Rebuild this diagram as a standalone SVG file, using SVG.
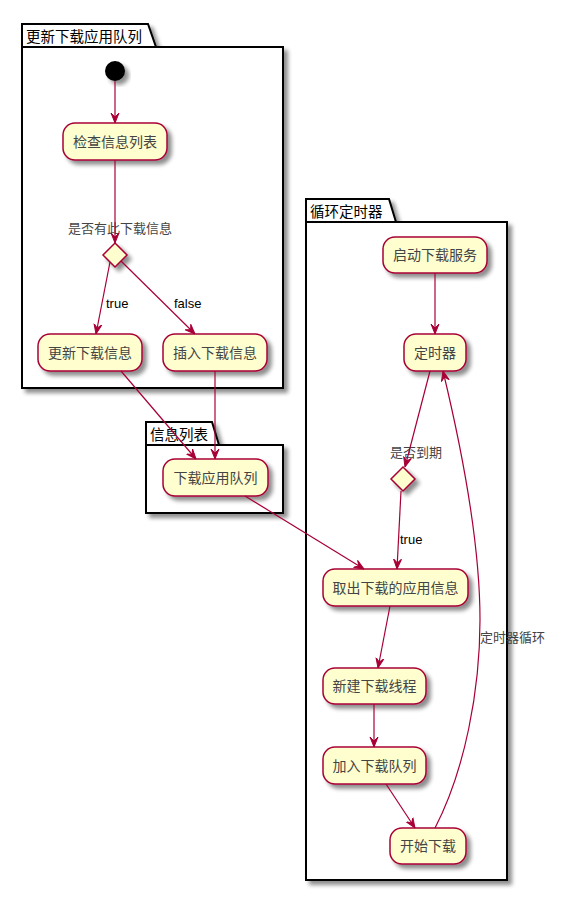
<svg xmlns="http://www.w3.org/2000/svg" width="564" height="907" viewBox="0 0 564 907">
<defs>
<filter id="sh" x="-20%" y="-20%" width="150%" height="150%">
<feGaussianBlur in="SourceAlpha" stdDeviation="2"/>
<feOffset dx="4" dy="4" result="b"/>
<feComponentTransfer><feFuncA type="linear" slope="0.45"/></feComponentTransfer>
<feMerge><feMergeNode/><feMergeNode in="SourceGraphic"/></feMerge>
</filter>
<marker id="ah" viewBox="0 0 10 10" refX="10" refY="5" markerWidth="10" markerHeight="10" markerUnits="userSpaceOnUse" orient="auto">
<path d="M10,5 L0,1 L4,5 L0,9 Z" fill="#A80036" stroke="#A80036" stroke-width="1"/>
</marker>
</defs>
<style>
.pkg{fill:#fff;stroke:#000;stroke-width:2}
.ptitle{font-family:"Noto Sans CJK SC","Liberation Sans",sans-serif;font-size:14.5px;fill:#000}
.act{fill:#FEFECE;stroke:#A80036;stroke-width:1.5}
.at{font-family:"Noto Sans CJK SC","Liberation Sans",sans-serif;font-size:14px;fill:#444;text-anchor:middle}
.lbl{font-family:"Liberation Sans","Noto Sans CJK SC",sans-serif;font-size:13px;fill:#000}
.lblc{font-family:"Noto Sans CJK SC","Liberation Sans",sans-serif;font-size:13px;fill:#444}
.ln{fill:none;stroke:#A80036;stroke-width:1.2;marker-end:url(#ah)}
</style>
<rect width="564" height="907" fill="#fff"/>
<g id="pkg-update">
<path class="pkg" filter="url(#sh)" d="M22,24 L148,24 L156,47 L283,47 L283,388 L22,388 Z"/>
<line x1="22" y1="47" x2="156" y2="47" stroke="#000" stroke-width="2"/>
<text class="ptitle" x="26" y="42">更新下载应用队列</text>
</g>
<g id="pkg-info">
<path class="pkg" filter="url(#sh)" d="M146,422 L212,422 L219,445 L283,445 L283,513 L146,513 Z"/>
<line x1="146" y1="445" x2="219" y2="445" stroke="#000" stroke-width="2"/>
<text class="ptitle" x="150" y="440">信息列表</text>
</g>
<g id="pkg-timer">
<path class="pkg" filter="url(#sh)" d="M306,199 L389,199 L396,222 L507,222 L507,880 L306,880 Z"/>
<line x1="306" y1="222" x2="396" y2="222" stroke="#000" stroke-width="2"/>
<text class="ptitle" x="310" y="217">循环定时器</text>
</g>
<g id="start"><circle cx="115" cy="71" r="10" fill="#000" filter="url(#sh)"/></g>
<g id="check"><rect class="act" filter="url(#sh)" x="63" y="123" width="104" height="37" rx="12"/><text class="at" x="115" y="146.5">检查信息列表</text></g>
<g id="dec1"><path class="act" filter="url(#sh)" d="M115,243 L127,255 L115,267 L103,255 Z"/><text class="lblc" x="68" y="233">是否有此下载信息</text></g>
<g id="update"><rect class="act" filter="url(#sh)" x="38" y="334" width="104" height="37" rx="12"/><text class="at" x="90" y="357.5">更新下载信息</text></g>
<g id="insert"><rect class="act" filter="url(#sh)" x="163" y="334" width="104" height="37" rx="12"/><text class="at" x="215" y="357.5">插入下载信息</text></g>
<g id="queue"><rect class="act" filter="url(#sh)" x="163" y="459" width="105" height="37" rx="12"/><text class="at" x="215.5" y="482.5">下载应用队列</text></g>
<g id="startsvc"><rect class="act" filter="url(#sh)" x="383" y="237" width="104" height="36" rx="12"/><text class="at" x="435" y="260">启动下载服务</text></g>
<g id="timer"><rect class="act" filter="url(#sh)" x="404" y="334" width="62" height="37" rx="12"/><text class="at" x="435" y="357.5">定时器</text></g>
<g id="dec2"><path class="act" filter="url(#sh)" d="M403,467 L415,479 L403,491 L391,479 Z"/><text class="lblc" x="390" y="457">是否到期</text></g>
<g id="fetch"><rect class="act" filter="url(#sh)" x="323" y="569" width="145" height="37" rx="12"/><text class="at" x="395.5" y="592.5">取出下载的应用信息</text></g>
<g id="newthread"><rect class="act" filter="url(#sh)" x="323" y="668" width="103" height="36" rx="12"/><text class="at" x="374.5" y="691">新建下载线程</text></g>
<g id="addqueue"><rect class="act" filter="url(#sh)" x="323" y="747" width="103" height="37" rx="12"/><text class="at" x="374.5" y="770.5">加入下载队列</text></g>
<g id="begin"><rect class="act" filter="url(#sh)" x="390" y="828" width="76" height="36" rx="12"/><text class="at" x="428" y="851">开始下载</text></g>
<g id="connectors">
<line class="ln" x1="115" y1="81" x2="115" y2="123"/>
<line class="ln" x1="115" y1="160" x2="115" y2="243"/>
<line class="ln" x1="110" y1="262" x2="96" y2="334"/>
<text class="lbl" x="106" y="308">true</text>
<line class="ln" x1="121" y1="261" x2="195" y2="334"/>
<text class="lbl" x="174" y="308">false</text>
<line class="ln" x1="121" y1="371" x2="196" y2="459"/>
<line class="ln" x1="215" y1="371" x2="215" y2="459"/>
<line class="ln" x1="245" y1="496" x2="364" y2="569"/>
<line class="ln" x1="435" y1="273" x2="435" y2="334"/>
<line class="ln" x1="430" y1="371" x2="405" y2="467"/>
<line class="ln" x1="401" y1="491" x2="397" y2="569"/>
<text class="lbl" x="400" y="544">true</text>
<line class="ln" x1="390" y1="606" x2="378" y2="668"/>
<line class="ln" x1="374" y1="704" x2="374" y2="747"/>
<line class="ln" x1="386" y1="784" x2="415" y2="828"/>
<path class="ln" d="M435,828 C465,770 480,690 480,620 C480,540 462,450 443,371"/>
<text class="lblc" x="480" y="642">定时器循环</text>
</g>
</svg>
